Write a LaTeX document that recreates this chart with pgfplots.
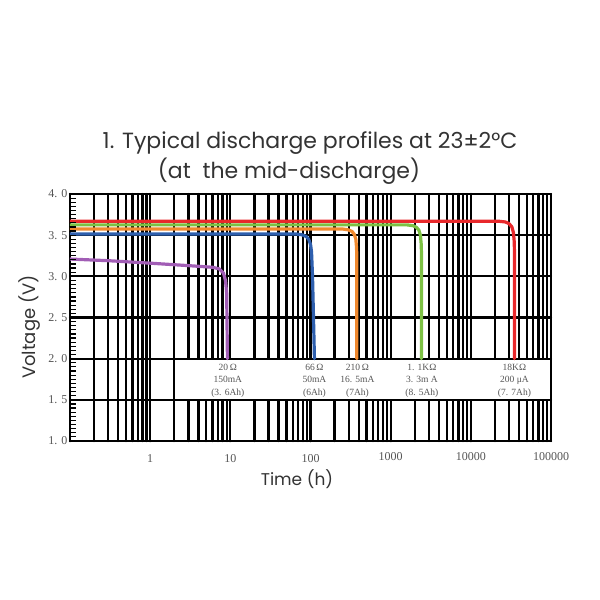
\documentclass[border=0pt]{standalone}
\usepackage{pgfplots}
\pgfplotsset{compat=1.18}
\usepackage{fontspec}
\setmainfont{Liberation Serif}
\newfontfamily\gothic{Poppins}
\definecolor{cred}{HTML}{E8282B}
\definecolor{cgreen}{HTML}{7CC043}
\definecolor{corange}{HTML}{F0892E}
\definecolor{cblue}{HTML}{2E5FAE}
\definecolor{cpurple}{HTML}{A15DB5}
\definecolor{tgray}{HTML}{333333}
\definecolor{lgray}{HTML}{555555}
\begin{document}
\begin{tikzpicture}[x=1pt,y=1pt]
\path[use as bounding box] (0,0) rectangle (600,600);
\begin{axis}[
  at={(70pt,159pt)}, anchor=south west,
  scale only axis, width=481pt, height=247pt,
  xmode=log, xmin=0.1, xmax=1e5, ymin=1, ymax=4,
  axis line style={line width=2.8pt},
  xmajorgrids=true, xminorgrids=true, ymajorgrids=true,
  every axis grid/.style={black, line width=2.3pt},
  major grid style={black, line width=2.3pt},
  minor grid style={black, line width=2.3pt},
  xtick={0.1,1,10,100,1000,10000,100000},
  xticklabels={,1,10,100,\raisebox{2pt}{1000},\raisebox{2pt}{10000},\raisebox{2pt}{100000}},
  xticklabel style={anchor=base, yshift=-22pt, font=\fontsize{12}{14}\selectfont, text=lgray},
  ytick={1,1.5,2,2.5,3,3.5,4},
  yticklabels={1. 0,1. 5,2. 0,2. 5,3. 0,3. 5,4. 0},
  yticklabel style={font=\fontsize{12}{14}\selectfont, text=lgray, xshift=1pt},
  ytick pos=left, xtick pos=bottom,
  tick align=inside,
  major tick length=0pt,
  minor x tick style={black, line width=2.3pt},
  major x tick style={black, line width=2.3pt},
  line join=round, line cap=round,
]
\fill[white] (axis cs:2.09,1.515) rectangle (axis cs:95000,1.985);
\addplot[cpurple, line width=3.2pt] coordinates {(0.1,3.21) (0.3,3.19) (1,3.16) (3,3.13) (6,3.11) (7.3,3.09) (8.2,3.04) (8.7,2.95) (9.0,2.8) (9.2,2.0)};
\addplot[cblue, line width=3.2pt] coordinates {(0.1,3.515) (65,3.515) (78,3.505) (88,3.485) (95,3.45) (100,3.39) (103,3.3) (106,3.0) (112,2.0)};
\addplot[corange, line width=3.2pt] coordinates {(0.1,3.575) (250,3.575) (295,3.565) (330,3.545) (352,3.51) (368,3.45) (375,3.35) (378,3.25) (378,2.0)};
\addplot[cgreen, line width=3.2pt] coordinates {(0.1,3.625) (1600,3.625) (1900,3.615) (2100,3.595) (2250,3.56) (2350,3.5) (2400,3.4) (2420,3.3) (2420,2.0)};
\addplot[cred, line width=3.2pt] coordinates {(0.1,3.67) (22000,3.67) (27000,3.66) (30000,3.64) (32500,3.60) (34000,3.53) (34800,3.42) (35000,3.3) (35000,2.0)};
\begin{scope}[every node/.style={align=center, font=\fontsize{9.5}{12.5}\selectfont, text=lgray, anchor=north}]
\node at (axis cs:9.3,1.98) {20\,Ω\\150mA\\(3. 6Ah)};
\node at (axis cs:112,1.98) {66\,Ω\\50mA\\(6Ah)};
\node at (axis cs:385,1.98) {210\,Ω\\16. 5mA\\(7Ah)};
\node at (axis cs:2450,1.98) {1. 1KΩ\\3. 3m A\\(8. 5Ah)};
\node at (axis cs:35000,1.98) {18KΩ\\200 μA\\(7. 7Ah)};
\end{scope}
\end{axis}
\foreach \i in {1,...,59} {
  \draw[black, line width=1.2pt] (70,{159+\i*247/60}) -- ++(6,0);
}
\node[text=tgray, font=\gothic\fontsize{22}{26}\selectfont] at (310,457) {1. Typical discharge profiles at 23±2°C};
\node[text=tgray, font=\gothic\fontsize{22}{26}\selectfont] at (289,429) {(at\ \ the mid-discharge)};
\node[text=tgray, font=\gothic\fontsize{17}{20}\selectfont] at (297,121) {Time (h)};
\node[text=tgray, font=\gothic\fontsize{18}{21}\selectfont, rotate=90] at (30,273) {Voltage (V)};
\end{tikzpicture}
\end{document}
